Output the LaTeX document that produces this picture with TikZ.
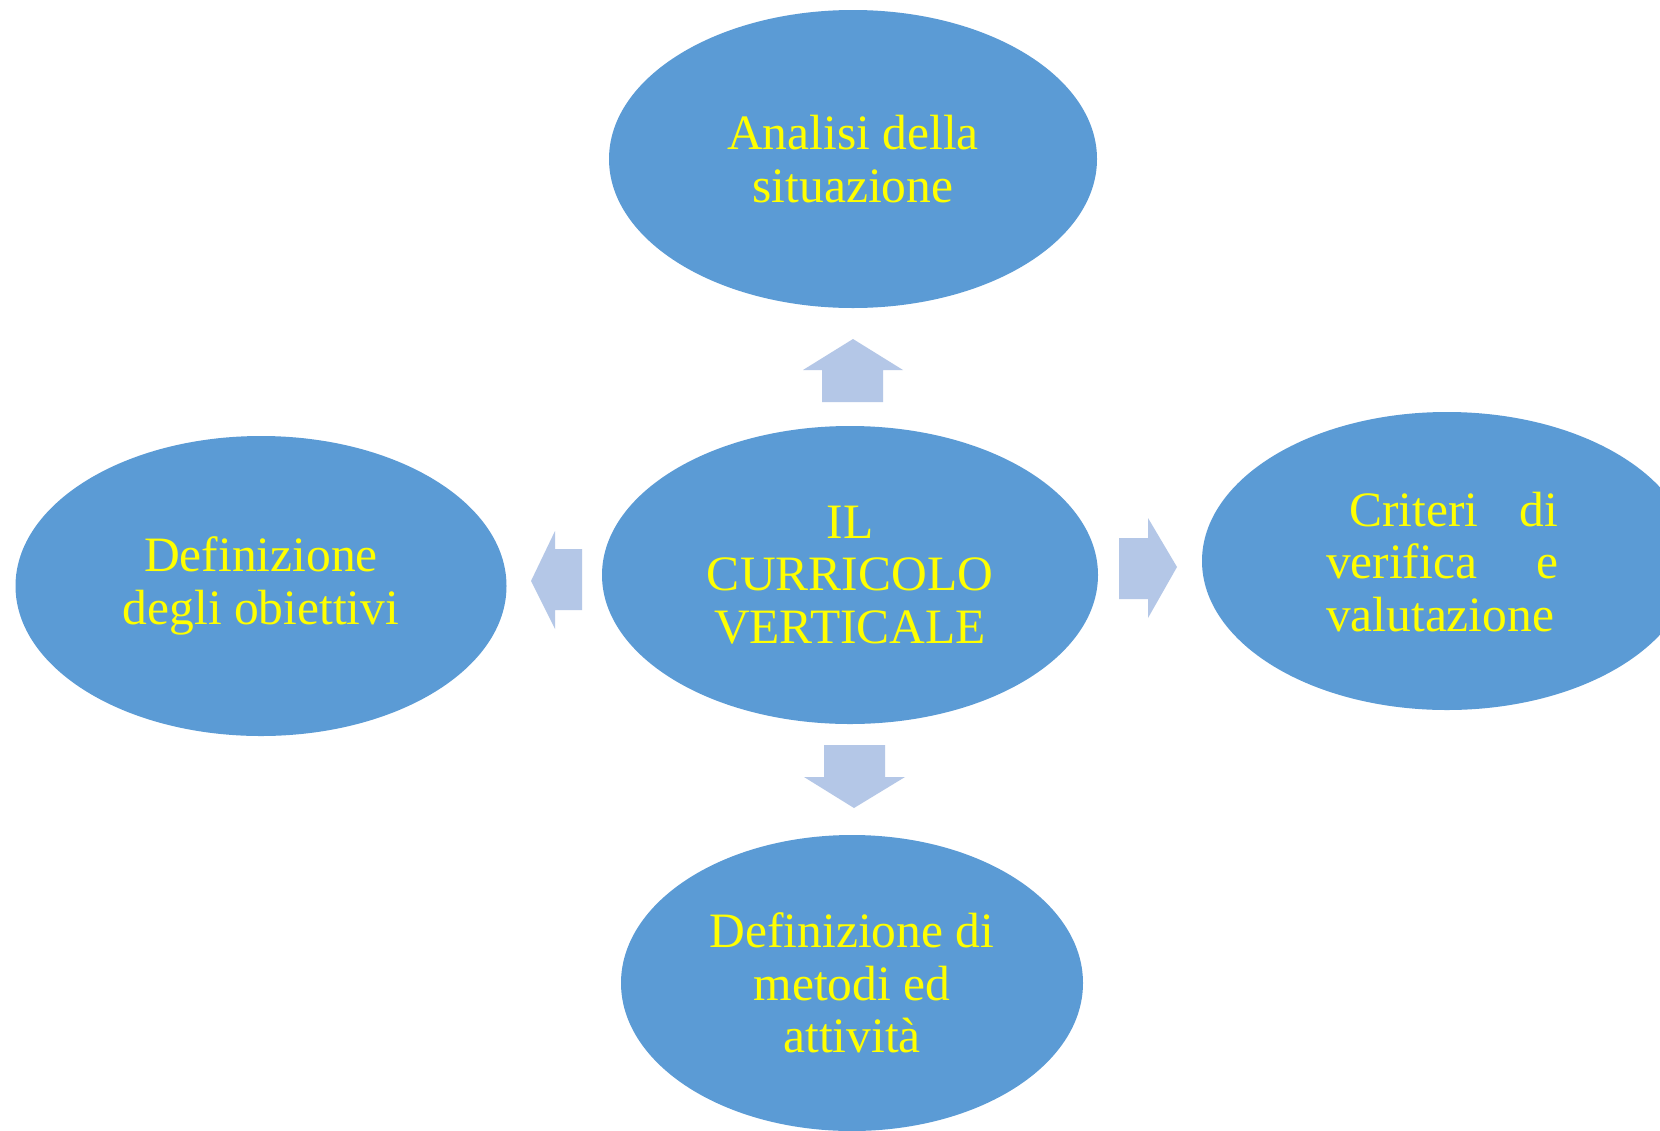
\documentclass[tikz,border=0pt]{standalone}
\usepackage{fontspec}
\setmainfont{Liberation Serif}
\usetikzlibrary{shapes.geometric}
\definecolor{ellblue}{HTML}{5B9BD5}
\definecolor{arrblue}{HTML}{B4C7E7}
\definecolor{txtyellow}{HTML}{FFFF00}
\begin{document}
\begin{tikzpicture}[x=1pt,y=-1pt,
  bubble/.style={ellipse, fill=ellblue, draw=none, inner sep=0pt, text=txtyellow,
    align=center, font=\fontsize{49.5}{52.5}\selectfont},
  blockarrow/.style={fill=arrblue, draw=none}]
\useasboundingbox (0,0) rectangle (1660,1130);
\clip (0,0) rectangle (1660,1130);
\fill[white] (0,0) rectangle (1660,1130);
% ellipses
\node[bubble, minimum width=488pt, minimum height=298pt] (top) at (853,159) {Analisi della\\situazione};
\node[bubble, minimum width=496pt, minimum height=298pt] (center) at (850,575) {IL\\CURRICOLO\\VERTICALE};
\node[bubble, minimum width=491pt, minimum height=300pt] (left) at (261,586) {Definizione\\degli obiettivi};
\node[bubble, minimum width=490pt, minimum height=298pt] (right) at (1447,561) {};
\node[text=txtyellow, inner sep=0pt, font=\fontsize{49.5}{52.5}\selectfont, align=left] (righttext) at (1442,562)
  {\hbox to 232pt{\hspace{23pt}Criteri\hfill di}\\\hbox to 232pt{verifica\hfill e}\\\hbox to 232pt{valutazione\hfill}};
\node[bubble, minimum width=462pt, minimum height=296pt] (bottom) at (852,983) {Definizione di\\metodi ed\\attività};
% block arrows
\fill[blockarrow] (822,402) -- (822,370) -- (803,370) -- (853,339) -- (903,370) -- (883,370) -- (883,402) -- cycle;
\fill[blockarrow] (824,745) -- (824,777) -- (804,777) -- (854,808) -- (905,777) -- (885,777) -- (885,745) -- cycle;
\fill[blockarrow] (582,549) -- (555,549) -- (555,531) -- (531,581) -- (555,629) -- (555,610) -- (582,610) -- cycle;
\fill[blockarrow] (1119,538) -- (1148,538) -- (1148,518) -- (1177,567) -- (1148,618) -- (1148,599) -- (1119,599) -- cycle;
\end{tikzpicture}
\end{document}
